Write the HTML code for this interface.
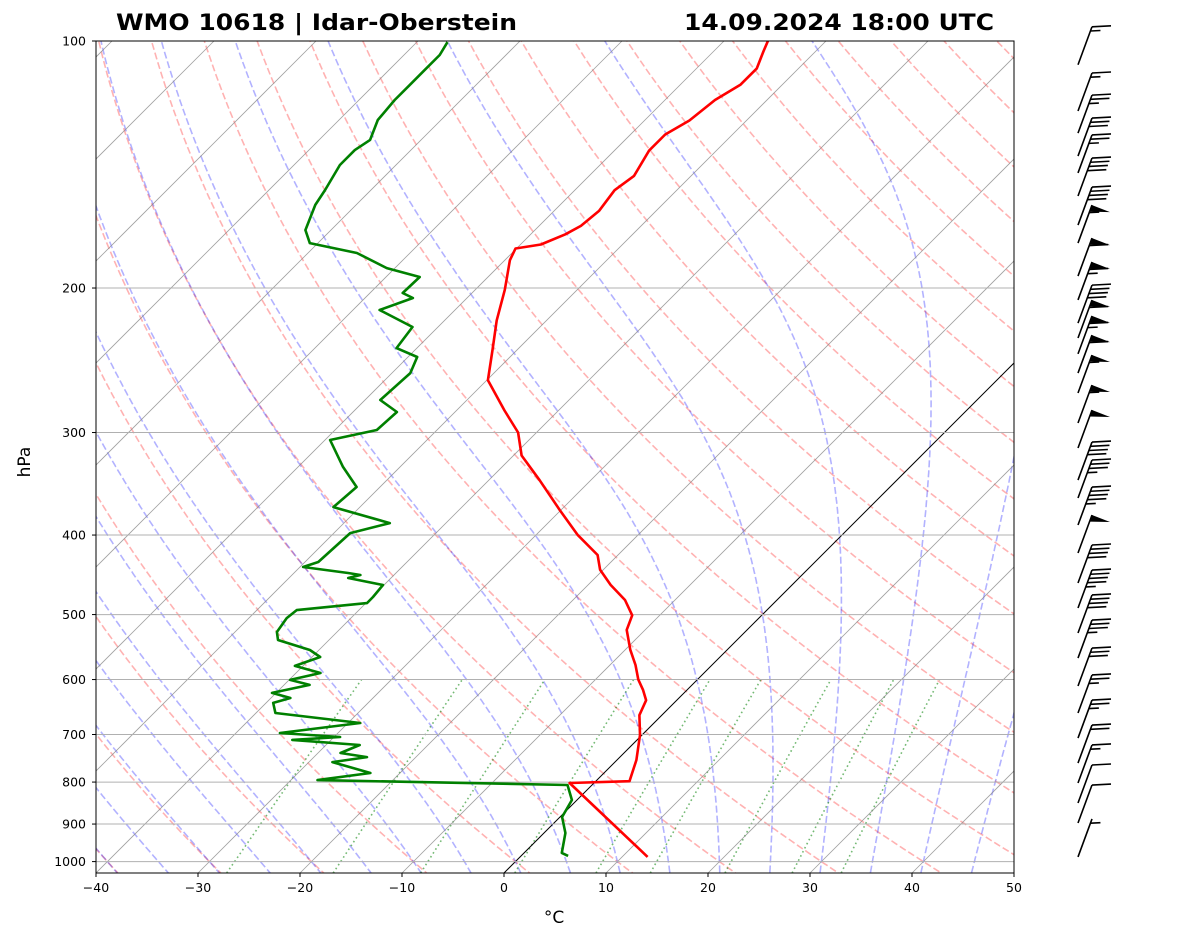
<!DOCTYPE html>
<html><head><meta charset="utf-8"><style>
html,body{margin:0;padding:0;background:#fff;}
svg{display:block;font-family:"DejaVu Sans","Liberation Sans",sans-serif;}
</style></head><body>
<svg id="chart" width="1181" height="941" viewBox="0 0 1181 941" xmlns="http://www.w3.org/2000/svg">
<defs><clipPath id="plotclip"><rect x="96" y="41" width="918" height="832"/></clipPath></defs>
<rect width="1181" height="941" fill="#fff"/>
<g id="bg" clip-path="url(#plotclip)"></g>
<g id="grid"></g>
<g id="profiles" clip-path="url(#plotclip)"></g>
<rect x="96" y="41" width="918" height="832" fill="none" stroke="#000" stroke-width="1"/>
<g id="axes"></g>
<g id="barbs"></g>
<text x="116" y="30" font-size="22" font-weight="bold" textLength="401" lengthAdjust="spacingAndGlyphs">WMO 10618 | Idar-Oberstein</text>
<text x="684" y="30" font-size="22" font-weight="bold" textLength="310" lengthAdjust="spacingAndGlyphs">14.09.2024 18:00 UTC</text>
<text x="554" y="923" font-size="17" text-anchor="middle">°C</text>
<text x="30" y="462" font-size="17" text-anchor="middle" transform="rotate(-90 30 462)">hPa</text>
</svg>
<script>
const tempP=[987,802,798,752,701,663,636,618,600,576,552,522,501,480,460,441,423,400,373,343,320,300,282,259,238,219,201,185,179,177,172,168,161,152,146,136,130,125,118,113,108,103,100];
const tempT=[12.5,-2.4,3.3,1.9,-0.2,-2.2,-3.0,-4.3,-5.8,-7.5,-9.5,-11.8,-12.7,-14.9,-17.8,-20.3,-22.0,-25.9,-30.1,-35.0,-39.2,-41.8,-45.3,-49.9,-52.4,-54.9,-57.1,-59.5,-60.1,-58.0,-56.6,-55.9,-55.6,-56.1,-55.6,-56.6,-56.6,-55.6,-55.1,-54.1,-54.1,-55.1,-55.7];
const dewP=[984,976,923,882.3,841.3,806.6,795.5,779.9,756.3,745.8,737.3,720.9,710.8,704.9,697.1,677.8,659,640.7,631.8,622.9,609.1,600.6,589,577.5,563.2,552.2,537,525,504.9,493.7,484.1,476,460.2,451.2,447.4,444.9,437.5,431.4,397.8,386.8,369.8,349.5,330.4,306.4,297.9,283.2,273.8,253.9,242.7,236.7,223.1,212.7,205.7,202.8,193.9,189.1,181.3,176.3,170,158.4,151.9,141.6,135.8,132,124.8,118,113.1,108.5,104,100.3];
const dewT=[4.6,3.7,2.1,0.2,-0.5,-2.4,-27.4,-22.9,-27.7,-24.8,-27.8,-26.7,-33.8,-29.4,-35.7,-28.8,-38.1,-39.3,-38.1,-40.4,-37.5,-39.9,-37.6,-40.8,-39.2,-40.9,-45.0,-45.9,-46.3,-46.1,-39.9,-39.9,-40.1,-44.2,-43.3,-44.7,-49.7,-48.7,-48.4,-45.5,-52.6,-52.3,-55.6,-59.5,-55.9,-55.7,-58.5,-58.2,-59.1,-62.0,-62.5,-67.4,-65.3,-66.8,-66.7,-70.8,-75.2,-80.8,-82.5,-84.0,-84.5,-85.5,-85.5,-85.0,-86.2,-86.5,-86.5,-86.5,-86.5,-87.0];
const barbP=[106.9,121.7,129.5,138.1,144.8,154.5,167.6,176.3,193.4,206.8,220.7,230.1,240.6,253.9,268.5,292.1,313.3,342.8,360.5,388.9,420.7,457.6,490.9,526.5,564.9,611,659,707.1,758.4,802,848.4,897.4,987];
const barbS=[15,15,25,30,25,40,40,55,60,65,40,60,65,60,55,55,50,40,35,45,50,40,45,40,35,30,25,25,20,15,10,10,5];
const xTicks=[-40,-30,-20,-10,0,10,20,30,40,50];
const yTicks=[100,200,300,400,500,600,700,800,900,1000];
const mixRatios=[0.0004,0.001,0.002,0.004,0.007,0.01,0.016,0.024,0.032];

const NS='http://www.w3.org/2000/svg';
const P_BOT=1032.5,P_TOP=100;
function yP(p){return 41+820.6*Math.log10(p/100);}
function xT(T,p){return 96+(T+40)*10.2+(873-yP(p));}
function mk(tag,attrs,parent){const e=document.createElementNS(NS,tag);for(const k in attrs)e.setAttribute(k,attrs[k]);parent.appendChild(e);return e;}
function pathFrom(ps,ts){let d='';for(let i=0;i<ps.length;i++){d+=(i?'L':'M')+xT(ts[i],ps[i]).toFixed(1)+' '+yP(ps[i]).toFixed(1);}return d;}
const bg=document.getElementById('bg');
for(let t0=-40;t0<=200;t0+=10){const ps=[],ts=[];for(let p=1060;p>=95;p-=5){ps.push(p);ts.push((t0+273.15)*Math.pow(p/1000,0.2857)-273.15);}
 const e=mk('path',{d:pathFrom(ps,ts),fill:'none',stroke:'#ff0000','stroke-opacity':0.3,'stroke-width':1.6,'stroke-dasharray':'7 3'},bg);
 }
function es(T){return 6.112*Math.exp(17.67*T/(T+243.5));}
function gam(p,T){const Tk=T+273.15,rs=0.622*es(T)/(p-es(T));const Rd=287.04,Lv=2.501e6,Cp=1005.7;return (Rd*Tk+Lv*rs)/(Cp+Lv*Lv*rs*0.622/(Rd*Tk*Tk))/p;}
for(let t0=-40;t0<=50;t0+=5){const up=[],ut=[];let T=t0;for(let p=1000;p>=95;p-=2){up.push(p);ut.push(T);T-=gam(p,T)*2;}
 const dp=[],dt=[];T=t0;for(let p=1000;p<=1060;p+=2){dp.push(p);dt.push(T);T+=gam(p,T)*2;}
 const ps=dp.reverse().concat(up),ts=dt.reverse().concat(ut);
 const e=mk('path',{d:pathFrom(ps,ts),fill:'none',stroke:'#0000ff','stroke-opacity':0.3,'stroke-width':1.6,'stroke-dasharray':'7 3'},bg);
 }
mixRatios.forEach(w=>{const ps=[],ts=[];for(let p=P_BOT;p>=600;p-=10){const e=w*p/(0.622+w),l=Math.log(e/6.112);ps.push(p);ts.push(243.5*l/(17.67-l));}
 const p=600,e0=w*p/(0.622+w),l=Math.log(e0/6.112);ps.push(600);ts.push(243.5*l/(17.67-l));
 const e=mk('path',{d:pathFrom(ps,ts),fill:'none',stroke:'#008000','stroke-opacity':0.55,'stroke-width':1.6,'stroke-dasharray':'1.6 3'},bg);
 });
for(let t=-130;t<=50;t+=10){const e=mk('line',{x1:xT(t,P_BOT),y1:yP(P_BOT),x2:xT(t,P_TOP),y2:yP(P_TOP),stroke:t===0?'#000':'#888','stroke-opacity':t===0?1:0.8,'stroke-width':t===0?1:0.8},bg);
 }
const grid=document.getElementById('grid'),axes=document.getElementById('axes');
yTicks.forEach(p=>{const y=yP(p);
 const g=mk('line',{x1:96,x2:1014,y1:y,y2:y,stroke:'#b0b0b0','stroke-width':1},grid);
 
 const tk=mk('line',{x1:92,x2:96,y1:y,y2:y,stroke:'#000'},axes);
 
 const tx=mk('text',{x:86,y:y+4.5,'font-size':12.5,'text-anchor':'end'},axes);tx.textContent=p;
 });
xTicks.forEach(t=>{const x=96+(t+40)*10.2;
 const tk=mk('line',{x1:x,x2:x,y1:873,y2:877,stroke:'#000'},axes);
 
 const tx=mk('text',{x:x,y:892,'font-size':12.5,'text-anchor':'middle'},axes);tx.textContent=(t<0?'\u2212'+(-t):t);
 });
const pr=document.getElementById('profiles');
const tl=mk('path',{d:pathFrom(tempP,tempT),fill:'none',stroke:'#ff0000','stroke-width':2.6,'stroke-linejoin':'round'},pr);

const dl=mk('path',{d:pathFrom(dewP,dewT),fill:'none',stroke:'#008000','stroke-width':2.6,'stroke-linejoin':'round'},pr);

const bb=document.getElementById('barbs');
barbP.forEach((p,i)=>{const yb=yP(p),xb=1078;const dx=14,dy=-38,L=Math.hypot(dx,dy),ux=dx/L,uy=dy/L;
 const g=mk('g',{},bb);
 const xt=xb+dx,yt=yb+dy;
 mk('line',{x1:xb,y1:yb,x2:xt,y2:yt,stroke:'#000','stroke-width':1.6},g);
 let s=Math.round(barbS[i]/5)*5,pos=0;
 while(s>=50){const ax=xt-ux*pos,ay=yt-uy*pos,bx=xt-ux*(pos+7),by=yt-uy*(pos+7);
  mk('polygon',{points:`${ax},${ay} ${ax+18},${ay+7} ${bx},${by}`,fill:'#000'},g);pos+=8;s-=50;}
 while(s>=10){const ax=xt-ux*pos,ay=yt-uy*pos;mk('line',{x1:ax,y1:ay,x2:ax+19,y2:ay-1,stroke:'#000','stroke-width':1.6},g);pos+=4.5;s-=10;}
 if(s>=5){if(pos===0)pos=4.5;const ax=xt-ux*pos,ay=yt-uy*pos;mk('line',{x1:ax,y1:ay,x2:ax+10,y2:ay-0.5,stroke:'#000','stroke-width':1.6},g);}
});
</script>
</body></html>
